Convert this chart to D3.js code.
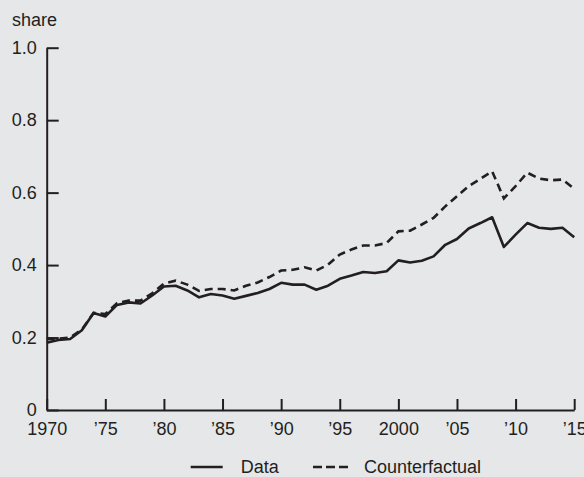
<!DOCTYPE html>
<html>
<head>
<meta charset="utf-8">
<script src="https://cdn.jsdelivr.net/npm/d3@7"></script>
<style>
  body { margin: 0; background: #e6e7e9; }
  text { font-family: "Liberation Sans", Arial, sans-serif; fill: #231f20; }
</style>
</head>
<body>
<div id="chart-area"></div>
<script>
// years 1970-2015
const years = d3.range(1970, 2016)

// share
const dataShare = [
	0.186, 0.193, 0.196, 0.220, 0.268, 0.258, 0.290, 0.297, 0.294, 0.316,
	0.341, 0.343, 0.330, 0.311, 0.320, 0.316, 0.307, 0.315, 0.323, 0.334,
	0.351, 0.346, 0.346, 0.332, 0.343, 0.362, 0.371, 0.381, 0.378, 0.383,
	0.413, 0.407, 0.412, 0.424, 0.456, 0.472, 0.501, 0.516, 0.532, 0.450,
	0.484, 0.516, 0.503, 0.500, 0.503, 0.477
]
const counterShare = [
	0.196, 0.197, 0.200, 0.222, 0.268, 0.265, 0.295, 0.302, 0.302, 0.322,
	0.349, 0.357, 0.346, 0.329, 0.334, 0.334, 0.330, 0.343, 0.352, 0.367,
	0.385, 0.387, 0.394, 0.385, 0.401, 0.429, 0.443, 0.454, 0.454, 0.461,
	0.493, 0.495, 0.512, 0.530, 0.562, 0.590, 0.618, 0.638, 0.659, 0.584,
	0.618, 0.655, 0.639, 0.634, 0.636, 0.611
]

const xTicks = [1970, 1975, 1980, 1985, 1990, 1995, 2000, 2005, 2010, 2015]
const yTicks = [0, 0.2, 0.4, 0.6, 0.8, 1.0]

const width = 584
const height = 477
const ink = "#231f20"

const svg = d3.select("#chart-area").append("svg")
	.attr("width", width)
	.attr("height", height)

svg.append("rect")
	.attr("width", width)
	.attr("height", height)
	.attr("fill", "#e6e7e9")

const x = d3.scaleLinear().domain([1970, 2015]).range([46.7, 574.2])
const y = d3.scaleLinear().domain([0, 1]).range([410, 47.7])

// y axis, ticks pointing inward
const yAxis = svg.append("g")
	.attr("transform", `translate(${x(1970)},0)`)
	.call(d3.axisLeft(y)
		.tickValues(yTicks)
		.tickSizeInner(-12)
		.tickSizeOuter(0)
		.tickPadding(10)
		.tickFormat(d => d === 0 ? "0" : d3.format(".1f")(d)))

// x axis, ticks pointing up
const xAxis = svg.append("g")
	.attr("transform", `translate(0,${y(0)})`)
	.call(d3.axisBottom(x)
		.tickValues(xTicks)
		.tickSizeInner(-11)
		.tickSizeOuter(0)
		.tickPadding(12)
		.tickFormat(d => (d === 1970 || d === 2000) ? String(d) : "\u2019" + String(d).slice(2)))

;[yAxis, xAxis].forEach(g => {
	g.selectAll("path.domain").attr("stroke", ink).attr("stroke-width", 2)
	g.selectAll(".tick line").attr("stroke", ink).attr("stroke-width", 2)
	g.selectAll(".tick text").attr("font-size", 18).attr("fill", ink)
		.style("font-family", '"Liberation Sans", Arial, sans-serif')
})
xAxis.selectAll(".tick text").attr("dy", "0.71em")

svg.append("text")
	.attr("x", 12)
	.attr("y", 26)
	.attr("font-size", 18)
	.text("share")

const line = d3.line()
	.x((d, i) => x(years[i]))
	.y(d => y(d))

svg.append("path")
	.datum(counterShare)
	.attr("d", line)
	.attr("fill", "none")
	.attr("stroke", ink)
	.attr("stroke-width", 2.6)
	.attr("stroke-dasharray", "8,5")

svg.append("path")
	.datum(dataShare)
	.attr("d", line)
	.attr("fill", "none")
	.attr("stroke", ink)
	.attr("stroke-width", 2.6)
	.attr("stroke-linejoin", "round")

// legend
const legend = [
	{name: "Data", x1: 190.7, x2: 222.7, dash: null, tx: 240.7},
	{name: "Counterfactual", x1: 313, x2: 350.5, dash: "9,4", tx: 364}
]
legend.forEach(l => {
	svg.append("line")
		.attr("x1", l.x1).attr("x2", l.x2)
		.attr("y1", 467).attr("y2", 467)
		.attr("stroke", ink)
		.attr("stroke-width", 2.7)
		.attr("stroke-dasharray", l.dash)
	svg.append("text")
		.attr("x", l.tx)
		.attr("y", 473)
		.attr("font-size", 18)
		.text(l.name)
})
</script>
</body>
</html>
